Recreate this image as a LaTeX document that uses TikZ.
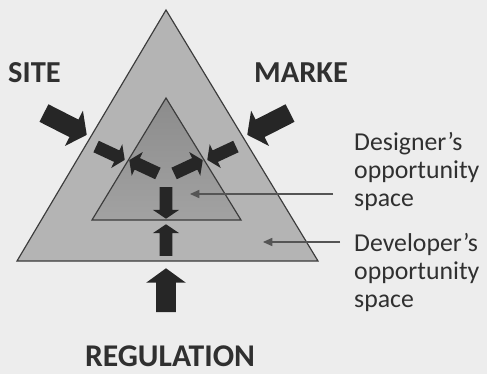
\documentclass[tikz,border=0pt]{standalone}
\usepackage{fontspec}
\setmainfont{Carlito}
\usetikzlibrary{shapes.arrows, arrows.meta}

\definecolor{pagegray}{HTML}{EDEDED}
\definecolor{outergray}{HTML}{B4B4B4}
\definecolor{innertop}{HTML}{8C8C8C}
\definecolor{innerbottom}{HTML}{A2A2A2}
\definecolor{edgegray}{HTML}{3C3C3C}
\definecolor{arrowdark}{HTML}{262626}
\definecolor{textdark}{HTML}{303030}
\definecolor{leadergray}{HTML}{555555}

\tikzset{
  bigarrow/.style={single arrow, fill=arrowdark, draw=none, inner xsep=0pt, inner ysep=8.2pt,
    minimum width=0pt, single arrow head extend=8.5pt, single arrow tip angle=108,
    minimum height=41pt, anchor=tip},
  smallarrow/.style={single arrow, fill=arrowdark, draw=none, inner xsep=0pt, inner ysep=5.2pt,
    minimum width=0pt, single arrow head extend=5.8pt, single arrow tip angle=112,
    minimum height=27pt, anchor=tip},
  forcelabel/.style={font=\fontsize{26}{28}\selectfont\bfseries, text=textdark, inner sep=0pt},
  spacelabel/.style={font=\fontsize{22}{23.8}\selectfont, text=textdark, align=left,
    inner sep=0pt, anchor=north west},
  leader/.style={draw=leadergray, line width=0.9pt, -{Triangle[length=8pt, width=7pt]}},
}

\begin{document}
\begin{tikzpicture}[x=0.03cm, y=-0.03cm]
    % Page background, same size as the scan
    \fill[pagegray] (0,0) rectangle (487,374);
    \useasboundingbox (0,0) rectangle (487,374);

    % Triangle corners
    \coordinate (otop) at (166,10);
    \coordinate (oleft) at (17,261);
    \coordinate (oright) at (318,261);
    \coordinate (itop) at (166,98);
    \coordinate (ileft) at (92,220);
    \coordinate (iright) at (241,220);

    % Developer's space (outer) and designer's space (inner)
    \filldraw[fill=outergray, draw=edgegray, line width=1pt] (otop) -- (oleft) -- (oright) -- cycle;
    \draw[top color=innertop, bottom color=innerbottom, draw=edgegray, line width=1pt] (itop) -- (ileft) -- (iright) -- cycle;

    % Forces
    \node[forcelabel, anchor=base west] (site) at (8,83) {SITE};
    \node[forcelabel, anchor=base west] (market) at (254,83) {MARKE};
    \node[forcelabel, font=\fontsize{27}{29}\selectfont\bfseries, anchor=base] (regulation) at (170,366) {REGULATION};

    % Big arrows pushing on the outer triangle
    \node[bigarrow, rotate=-27] (sitearrow) at (87,135) {};
    \node[bigarrow, rotate=207] (marketarrow) at (247,135) {};
    \node[bigarrow, rotate=90, minimum height=37.5pt] (regarrow) at (166,268) {};

    % Small arrows meeting on the inner triangle
    \node[smallarrow, rotate=-25] (siteout) at (125,160) {};
    \node[smallarrow, rotate=155] (sitein) at (129,160) {};
    \node[smallarrow, rotate=205] (marketout) at (207,160) {};
    \node[smallarrow, rotate=25] (marketin) at (203,160) {};
    \node[smallarrow, rotate=-90] (regin) at (166,219) {};
    \node[smallarrow, rotate=90] (regout) at (166,224) {};

    % Opportunity spaces
    \node[spacelabel] (designer) at (354,132) {Designer’s\\opportunity\\space};
    \node[spacelabel] (developer) at (354,233) {Developer’s\\opportunity\\space};

    \coordinate (designstart) at (333,194);
    \coordinate (designtip) at (190,194);
    \coordinate (developstart) at (340,242);
    \coordinate (developtip) at (263,242);
    \draw[leader] (designstart) -- (designtip);
    \draw[leader] (developstart) -- (developtip);
\end{tikzpicture}
\end{document}
